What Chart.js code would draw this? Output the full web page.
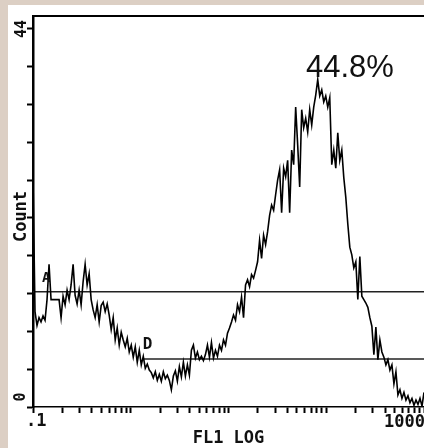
<!DOCTYPE html>
<html>
<head>
<meta charset="utf-8">
<script src="https://cdn.jsdelivr.net/npm/chart.js@4.4.0/dist/chart.umd.min.js"></script>
<style>
  html, body { margin: 0; padding: 0; background: #dccfc4; }
  #wrap { position: relative; width: 424px; height: 448px; }
</style>
</head>
<body>
<div id="wrap"><canvas id="fl1-histo"></canvas></div>
<script>
// FL1 LOG histogram - counts per channel
const counts = [
    26.8, 11.1, 9.5, 10.4, 9.9, 10.6, 10.1, 12.5, 16.6, 12.5,
    12.5, 12.5, 12.5, 12.5, 10.4, 12.9, 11.9, 13.6, 12.5, 14.2,
    16.6, 13.0, 12.0, 13.6, 11.9, 14.6, 16.6, 14.2, 15.5, 12.5,
    11.3, 10.4, 11.9, 9.9, 11.8, 12.2, 11.1, 12.0, 10.7, 9.0,
    10.4, 7.8, 9.2, 7.2, 8.7, 7.8, 7.0, 8.0, 6.4, 7.2,
    5.8, 7.0, 5.2, 6.6, 4.9, 5.9, 4.5, 5.0, 4.3, 4.0,
    3.4, 4.1, 3.1, 3.8, 3.0, 4.1, 3.3, 3.7, 3.1, 2.0,
    3.6, 4.2, 3.0, 4.7, 3.5, 5.2, 3.6, 4.9, 3.7, 6.6,
    7.2, 5.7, 6.4, 5.5, 5.9, 5.4, 6.1, 7.2, 5.8, 7.5,
    5.7, 6.6, 5.9, 7.2, 6.6, 7.8, 7.2, 8.6, 9.2, 9.9,
    10.7, 10.1, 11.9, 11.1, 12.8, 10.4, 14.2, 14.8, 14.0, 15.4,
    15.0, 15.9, 16.9, 19.4, 17.3, 20.0, 18.9, 20.4, 22.3, 23.5,
    22.9, 24.7, 26.4, 27.6, 22.6, 27.8, 26.8, 28.7, 22.6, 29.9,
    28.2, 34.9, 30.5, 25.6, 34.6, 32.5, 33.6, 32.0, 34.6, 32.8,
    34.9, 36.3, 38.1, 36.2, 36.9, 35.5, 36.2, 34.9, 36.0, 28.2,
    29.9, 27.8, 31.9, 28.7, 29.9, 26.7, 24.4, 21.3, 18.6, 17.7,
    16.2, 16.9, 12.5, 17.5, 12.9, 12.5, 12.1, 11.6, 10.4, 9.4,
    6.1, 9.3, 5.5, 7.8, 6.4, 5.8, 4.9, 5.5, 4.3, 4.9,
    2.7, 4.1, 1.4, 2.0, 1.0, 1.7, 0.8, 1.3, 0.5, 1.0,
    0.2, 0.8, 0.3, 1.0, 0.1, 1.7
];
const channels = counts.map((c, i) => i);

const xTickValues = [
    0.1, 0.2, 0.3, 0.4, 0.5, 0.6, 0.7, 0.8, 0.9,
    1, 2, 3, 4, 5, 6, 7, 8, 9,
    10, 20, 30, 40, 50, 60, 70, 80, 90,
    100, 200, 300, 400, 500, 600, 700, 800, 900, 1000
];
const yTickValues = [0, 4.4, 8.8, 13.2, 17.6, 22, 26.4, 30.8, 35.2, 39.6, 44];

// region markers
const markerA = [0.1, 1000];
const markerALevel = 13.4;
const markerD = [1.33, 1000];
const markerDLevel = 5.6;
const peakLabel = '44.8%';

const monoBold = '"DejaVu Sans Mono", "Liberation Mono", monospace';

function drawUp(ctx, text, x, y) {
    ctx.save();
    ctx.translate(x, y);
    ctx.rotate(-Math.PI / 2);
    ctx.fillText(text, 0, 0);
    ctx.restore();
}

const panelText = {
    id: 'panelText',
    beforeDraw(chart) {
        const ctx = chart.ctx;
        ctx.save();
        ctx.fillStyle = '#dccfc4';
        ctx.fillRect(0, 0, chart.width, chart.height);
        ctx.fillStyle = '#ffffff';
        ctx.fillRect(8, 5, chart.width - 8, chart.height - 5);
        ctx.restore();
    },
    afterDraw(chart) {
        const ctx = chart.ctx;
        const xs = chart.scales.xLog;
        const ys = chart.scales.y;
        const area = chart.chartArea;
        ctx.save();
        ctx.fillStyle = '#111';
        ctx.textBaseline = 'alphabetic';

        // x tick labels
        ctx.font = 'bold 17px ' + monoBold;
        ctx.textAlign = 'left';
        ctx.fillText('.1', xs.getPixelForValue(0.1) - 7, area.bottom + 19);
        ctx.textAlign = 'right';
        ctx.fillText('1000', xs.getPixelForValue(1000) + 1, area.bottom + 20);
        ctx.textAlign = 'center';
        ctx.fillText('FL1 LOG', (area.left + area.right) / 2, area.bottom + 36);

        // y labels, reading upward
        drawUp(ctx, 'Count', 26, (area.top + area.bottom) / 2 + 5);
        ctx.font = 'bold 15px ' + monoBold;
        drawUp(ctx, '44', 26, ys.getPixelForValue(44));
        drawUp(ctx, '0', 25, ys.getPixelForValue(0) - 10);

        // marker names
        ctx.textAlign = 'left';
        ctx.font = 'bold 14px ' + monoBold;
        ctx.fillText('A', xs.getPixelForValue(markerA[0]) + 9, ys.getPixelForValue(markerALevel) - 10);
        ctx.font = 'bold 16px ' + monoBold;
        ctx.fillText('D', xs.getPixelForValue(markerD[0]), ys.getPixelForValue(markerDLevel) - 10);

        // gated percentage
        ctx.font = '31px "Liberation Sans", Arial, sans-serif';
        ctx.fillText(peakLabel, 306, 77);
        ctx.restore();
    }
};

const histo = new Chart(document.getElementById('fl1-histo'), {
    type: 'line',
    data: {
        labels: channels,
        datasets: [
            {
                label: 'Count',
                data: counts,
                xAxisID: 'x',
                yAxisID: 'y',
                borderColor: '#000',
                borderWidth: 1.6,
                pointRadius: 0,
                tension: 0,
                fill: false
            },
            {
                label: 'A',
                data: markerA.map(v => ({x: v, y: markerALevel})),
                xAxisID: 'xLog',
                yAxisID: 'y',
                borderColor: '#222',
                borderWidth: 1.5,
                pointRadius: 0
            },
            {
                label: 'D',
                data: markerD.map(v => ({x: v, y: markerDLevel})),
                xAxisID: 'xLog',
                yAxisID: 'y',
                borderColor: '#222',
                borderWidth: 1.5,
                pointRadius: 0
            }
        ]
    },
    options: {
        responsive: true,
        maintainAspectRatio: false,
        animation: false,
        layout: { padding: 0 },
        plugins: {
            legend: { display: false },
            tooltip: { enabled: false }
        },
        scales: {
            x: {
                type: 'category',
                display: false,
                offset: false
            },
            xLog: {
                type: 'logarithmic',
                position: 'bottom',
                min: 0.1,
                max: 1000,
                afterBuildTicks: function(scale) {
                    scale.ticks = xTickValues.map(v => ({value: v}));
                },
                afterFit: function(scale) {
                    scale.height = 41;
                },
                ticks: { display: false, autoSkip: false },
                grid: {
                    drawOnChartArea: false,
                    tickLength: 6,
                    tickWidth: 2,
                    tickColor: '#000'
                },
                border: { display: true, color: '#000', width: 1.5 }
            },
            xTop: {
                type: 'linear',
                position: 'top',
                min: 0,
                max: 1,
                afterFit: function(scale) {
                    scale.height = 16;
                },
                ticks: { display: false },
                grid: { display: false },
                border: { display: true, color: '#000', width: 2 }
            },
            y: {
                type: 'linear',
                min: 0,
                max: 45.5,
                afterBuildTicks: function(scale) {
                    scale.ticks = yTickValues.map(v => ({value: v}));
                },
                afterFit: function(scale) {
                    scale.width = 33;
                },
                ticks: { display: false },
                grid: {
                    drawOnChartArea: false,
                    tickLength: 6,
                    tickWidth: 2,
                    tickColor: '#000'
                },
                border: { display: true, color: '#000', width: 2.5 }
            }
        }
    },
    plugins: [panelText]
});
</script>
</body>
</html>
